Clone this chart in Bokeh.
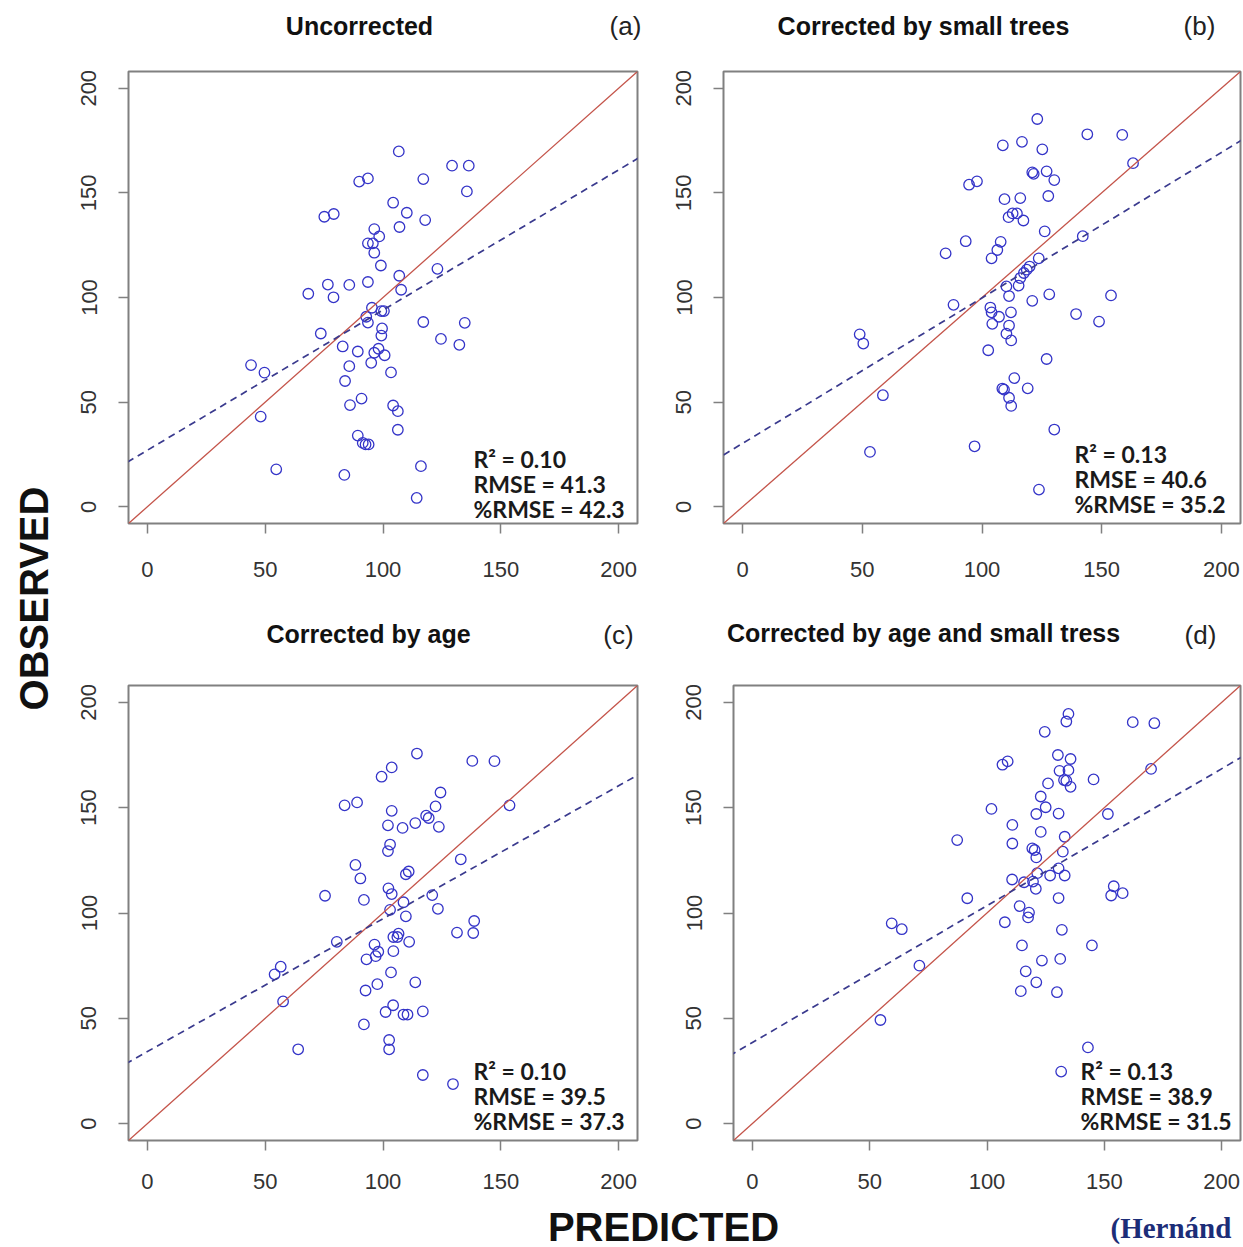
from math import pi
from bokeh.plotting import figure
from bokeh.layouts import row, column
from bokeh.models import Label, Slope, FixedTicker, Range1d
from bokeh.embed import file_html
from bokeh.resources import INLINE

# ---------------- data ----------------
titles = ["Uncorrected", "Corrected by small trees", "Corrected by age",
          "Corrected by age and small tress"]
tags = ["(a)", "(b)", "(c)", "(d)"]
r2_vals = ["0.10", "0.13", "0.10", "0.13"]
rmse_vals = ["41.3", "40.6", "39.5", "38.9"]
prmse_vals = ["42.3", "35.2", "37.3", "31.5"]
fit_intercept = [27.0, 30.3, 34.2, 38.5]
fit_slope = [0.67, 0.695, 0.631, 0.65]
ticks = [0, 50, 100, 150, 200]

pred_a = [106.7, 129.3, 136.4, 89.9, 93.6, 117.1, 135.6, 75.1, 79.1, 104.3, 110.1, 117.9,
          107.0, 96.3, 98.4, 93.6, 95.7, 96.3, 99.1, 123.1, 106.9, 107.7, 68.3, 76.6,
          79.0, 85.7, 93.6, 95.3, 99.3, 100.4, 92.9, 93.6, 117.1, 134.7, 73.6, 99.6,
          99.3, 82.9, 89.3, 98.1, 96.3, 100.7, 95.0, 124.6, 132.4, 85.7, 103.4, 44.0,
          49.7, 83.9, 90.9, 86.0, 104.3, 106.3, 48.1, 106.3, 89.3, 91.4, 93.9, 92.6,
          54.7, 83.6, 116.1, 114.3]
obs_a = [169.8, 163.0, 163.0, 155.4, 156.9, 156.6, 150.7, 138.6, 139.9, 145.3, 140.5, 137.0,
         133.7, 132.7, 129.2, 125.9, 125.9, 121.4, 115.3, 113.7, 110.4, 103.7, 101.8, 106.2,
         100.1, 106.0, 107.4, 95.1, 93.5, 93.5, 90.8, 88.0, 88.3, 87.9, 82.8, 85.2,
         81.8, 76.6, 74.2, 75.5, 73.6, 72.4, 68.8, 80.2, 77.4, 67.2, 64.2, 67.7,
         64.1, 60.1, 51.7, 48.6, 48.4, 45.7, 43.1, 36.8, 34.0, 30.5, 29.8, 29.8,
         17.9, 15.2, 19.4, 4.2]

pred_b = [123.1, 144.0, 158.6, 108.7, 116.7, 125.2, 163.1, 121.0, 121.6, 127.0, 130.2, 94.6,
          97.9, 109.4, 116.0, 127.7, 111.1, 112.8, 114.6, 117.3, 126.2, 142.1, 93.2, 84.8,
          107.8, 106.4, 104.0, 123.7, 119.9, 118.7, 117.5, 116.0, 115.3, 110.2, 111.3, 128.1,
          153.9, 88.1, 103.5, 104.0, 107.1, 112.1, 121.0, 139.3, 148.9, 104.3, 110.2, 111.3,
          112.2, 48.9, 50.4, 102.6, 127.0, 113.5, 108.5, 109.2, 119.1, 111.3, 112.2, 58.6,
          130.2, 53.2, 96.9, 123.8]
obs_b = [185.3, 178.0, 177.7, 172.7, 174.4, 170.8, 164.2, 159.8, 159.1, 160.3, 156.1, 153.9,
         155.5, 147.0, 147.5, 148.5, 138.4, 140.2, 140.2, 136.8, 131.6, 129.3, 126.9, 121.1,
         126.6, 122.7, 118.7, 118.7, 114.8, 113.3, 111.7, 109.3, 105.7, 105.3, 100.7, 101.5,
         101.0, 96.5, 95.2, 92.9, 90.8, 92.9, 98.4, 92.1, 88.5, 87.4, 82.7, 86.6,
         79.5, 82.4, 78.0, 74.8, 70.6, 61.5, 56.5, 56.0, 56.6, 52.1, 48.2, 53.3,
         36.9, 26.2, 28.9, 8.2]

pred_c = [114.4, 137.9, 147.3, 103.7, 99.4, 83.7, 89.0, 124.4, 122.3, 103.7, 153.7, 118.3,
          119.4, 113.7, 102.1, 108.3, 123.7, 103.0, 102.1, 133.0, 88.3, 109.7, 110.9, 90.4,
          75.4, 102.3, 103.7, 120.9, 91.9, 108.7, 103.0, 123.3, 109.7, 138.7, 131.4, 138.3,
          104.4, 106.1, 106.6, 111.1, 80.4, 96.4, 98.0, 96.9, 93.0, 104.4, 56.6, 54.0,
          103.4, 113.7, 92.6, 97.6, 57.6, 104.3, 101.1, 108.7, 110.4, 116.9, 91.9, 102.6,
          102.6, 64.0, 116.9, 129.7]
obs_c = [175.7, 172.2, 172.1, 169.1, 164.7, 151.1, 152.5, 157.2, 150.6, 148.5, 151.1, 146.2,
         145.1, 142.7, 141.6, 140.4, 140.9, 132.5, 129.4, 125.5, 122.8, 118.4, 119.7, 116.4,
         108.2, 111.7, 109.0, 108.5, 106.2, 105.1, 101.5, 102.0, 98.4, 96.2, 90.7, 90.5,
         88.6, 88.6, 90.2, 86.3, 86.3, 85.0, 81.6, 79.5, 78.0, 81.9, 74.5, 70.9,
         71.8, 67.1, 63.2, 66.2, 58.0, 56.2, 53.0, 51.8, 51.8, 53.3, 47.1, 39.7,
         35.3, 35.3, 23.1, 18.8]

pred_d = [134.7, 133.8, 162.1, 171.3, 124.6, 106.6, 108.8, 130.2, 135.6, 169.9, 130.9, 134.7,
          132.8, 133.8, 135.6, 126.0, 145.4, 122.9, 125.0, 121.0, 130.5, 101.9, 151.5, 110.8,
          122.9, 133.1, 87.3, 110.8, 119.3, 120.3, 132.3, 121.0, 130.5, 121.4, 126.9, 133.1,
          110.7, 115.8, 119.6, 120.8, 130.5, 154.0, 152.9, 157.8, 91.6, 113.9, 117.9, 117.5,
          59.4, 63.7, 107.6, 131.9, 71.2, 114.9, 144.7, 123.4, 131.2, 116.5, 121.0, 114.4,
          129.8, 54.6, 143.0, 131.6]
obs_d = [194.5, 190.9, 190.6, 190.1, 186.0, 170.4, 172.0, 175.0, 173.1, 168.4, 167.5, 167.8,
         163.1, 162.8, 159.9, 161.5, 163.4, 155.3, 150.2, 147.0, 147.2, 149.4, 147.0, 141.8,
         138.5, 136.2, 134.6, 133.0, 130.7, 129.9, 129.1, 126.4, 121.2, 118.9, 117.8, 117.8,
         115.9, 114.6, 114.9, 111.5, 107.1, 112.7, 108.3, 109.4, 107.0, 103.3, 100.2, 97.9,
         95.1, 92.3, 95.6, 92.0, 75.0, 84.6, 84.6, 77.4, 78.2, 72.3, 67.1, 62.9,
         62.4, 49.2, 36.2, 24.7]

preds = [pred_a, pred_b, pred_c, pred_d]
obss = [obs_a, obs_b, obs_c, obs_d]

# ---------------- styling ----------------
LO, HI = -8, 208
TICK_FONT = "'Liberation Sans', Arial, sans-serif"
TITLE_FONT = "'Liberation Sans', Arial, sans-serif"
STAT_FONT = "Lato"
PT_COLOR = "#3434c8"
FIT_COLOR = "#3a3a8e"
ONE_COLOR = "#c4544a"
BOX_COLOR = "#808080"
TEXT_DARK = "#111111"

# panel geometry: (fig width, fig height, border left, right, top, bottom)
geom = [
    (600, 545, 68, 23, 15, 77),
    (583, 545, 63, 3, 16, 73),
    (600, 540, 68, 23, 25, 60),
    (583, 540, 73, 3, 23, 60),
]
label_standoff = [28, 28, 23, 23]
# stats text: left edge and first-line centre, relative to the frame's top-left (px)
stat_off = [(345, 388), (351, 386), (345, 385), (347, 387)]
stat_gap = 25


def make_panel(i):
    w, h, bl, br, bt, bb = geom[i]
    fw, fh = w - bl - br, h - bt - bb
    p = figure(width=w, height=h, x_range=Range1d(LO, HI), y_range=Range1d(LO, HI),
               output_backend="svg", toolbar_location=None,
               min_border_left=bl, min_border_right=br,
               min_border_top=bt, min_border_bottom=bb)
    p.grid.visible = False
    p.outline_line_color = BOX_COLOR
    p.outline_line_width = 2
    p.background_fill_color = "white"
    p.border_fill_color = "white"
    for ax in (p.xaxis[0], p.yaxis[0]):
        ax.ticker = FixedTicker(ticks=ticks)
        ax.axis_line_color = None
        ax.major_tick_line_color = BOX_COLOR
        ax.major_tick_line_width = 1.5
        ax.major_tick_out = 10
        ax.major_tick_in = 0
        ax.minor_tick_line_color = None
        ax.major_label_text_font = TICK_FONT
        ax.major_label_text_font_size = "22px"
        ax.major_label_text_color = "#333333"
    p.xaxis.major_label_standoff = label_standoff[i]
    p.yaxis.major_label_standoff = 22
    p.yaxis.major_label_orientation = "vertical"

    # 1:1 line and fitted regression line
    p.add_layout(Slope(gradient=1, y_intercept=0, line_color=ONE_COLOR, line_width=1.3))
    p.add_layout(Slope(gradient=fit_slope[i], y_intercept=fit_intercept[i],
                       line_color=FIT_COLOR, line_width=1.7, line_dash="7 5"))
    p.scatter(preds[i], obss[i], marker="circle", size=10.5, fill_color=None,
              line_color=PT_COLOR, line_width=1.3)

    sxu = (HI - LO) / fw
    syu = (HI - LO) / fh
    lines = ["R\u00b2 = " + r2_vals[i], "RMSE = " + rmse_vals[i], "%RMSE = " + prmse_vals[i]]
    for k, t in enumerate(lines):
        sx = LO + stat_off[i][0] * sxu
        sy = HI - (stat_off[i][1] + k * stat_gap) * syu
        p.add_layout(Label(x=sx, y=sy, text=t, text_align="left", text_baseline="middle",
                           text_font=STAT_FONT, text_font_style="bold",
                           text_font_size="23px", text_color="#1a1a1a"))
    return p


panels = [make_panel(i) for i in range(4)]


def blank(w, h):
    f = figure(width=w, height=h, x_range=Range1d(0, w), y_range=Range1d(0, h),
               output_backend="svg", toolbar_location=None, min_border=0)
    f.axis.visible = False
    f.grid.visible = False
    f.outline_line_color = None
    f.border_fill_color = "white"
    f.background_fill_color = "white"
    return f


STRIP_W = 60
# title strips (coordinates: pixels from strip's left, from strip's bottom)
T1_H, T2_H = 55, 60
title1 = blank(1243 - STRIP_W, T1_H)
title2 = blank(1243 - STRIP_W, T2_H)
title_pos = [(359, 30), (923, 30), (368, 27), (923, 28)]
tag_pos = [(625, 30), (1199, 30), (618, 26), (1200, 26)]
for i in range(4):
    f = title1 if i < 2 else title2
    f.add_layout(Label(x=title_pos[i][0] - STRIP_W, y=title_pos[i][1], text=titles[i],
                       text_align="center", text_baseline="middle", text_font=TITLE_FONT,
                       text_font_style="bold", text_font_size="25px", text_color=TEXT_DARK))
    f.add_layout(Label(x=tag_pos[i][0] - STRIP_W, y=tag_pos[i][1], text=tags[i],
                       text_align="center", text_baseline="middle", text_font=TITLE_FONT,
                       text_font_size="26px", text_color="#222222"))

# left strip with OBSERVED
STRIP_H = T1_H + geom[0][1] + T2_H + geom[2][1]
strip = blank(STRIP_W, STRIP_H)
strip.add_layout(Label(x=33, y=STRIP_H - 598, text="OBSERVED", angle=pi / 2,
                       text_align="center", text_baseline="middle",
                       text_font="Liberation Sans", text_font_style="bold",
                       text_font_size="40px", text_color=TEXT_DARK))

# bottom strip with PREDICTED
BOT_H = 1247 - STRIP_H
bottom = blank(1243, BOT_H)
bottom.add_layout(Label(x=663, y=21, text="PREDICTED", text_align="center",
                        text_baseline="middle", text_font="Liberation Sans",
                        text_font_style="bold", text_font_size="40px",
                        text_color=TEXT_DARK))
bottom.add_layout(Label(x=1110, y=20, text="(Hern\u00e1nd", text_align="left",
                        text_baseline="middle", text_font="Liberation Serif",
                        text_font_style="bold", text_font_size="29px",
                        text_color="#1c2d78"))

layout = column(
    row(strip, column(title1, row(panels[0], panels[1]), title2, row(panels[2], panels[3]))),
    bottom,
)

open("out.html", "w").write(file_html(layout, INLINE))
